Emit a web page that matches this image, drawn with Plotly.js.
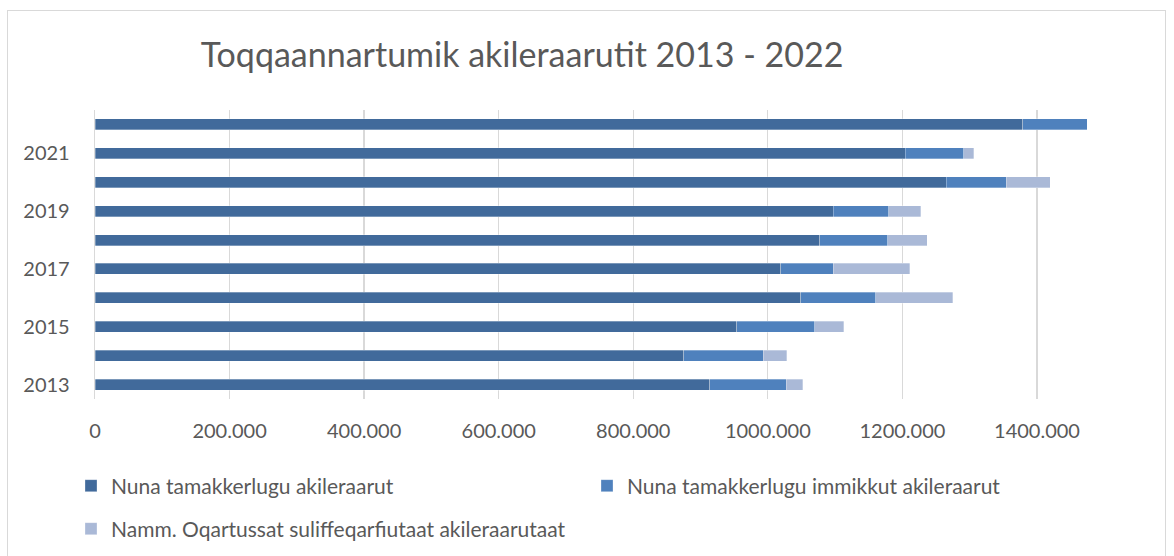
<!DOCTYPE html>
<html>
<head>
<meta charset="utf-8">
<script src="https://cdn.plot.ly/plotly-3.0.1.min.js"></script>
<style>
html,body{margin:0;padding:0;background:#fff;}
#wrap{position:relative;width:1174px;height:556px;overflow:hidden;}
#chart{width:1174px;height:556px;}
#frame{position:absolute;left:7px;top:10px;width:1157px;height:600px;border:1px solid #d9d9d9;pointer-events:none;}
</style>
</head>
<body>
<div id="wrap"><div id="chart"></div><div id="frame"></div></div>
<script>
const years = [2013, 2014, 2015, 2016, 2017, 2018, 2019, 2020, 2021, 2022];
const nunaTamakkerlugu = [914000, 875000, 954000, 1049000, 1019000, 1077000, 1097000, 1265000, 1204000, 1379000];
const nunaImmikkut = [113000, 118000, 116000, 111000, 78000, 101000, 83000, 89000, 87000, 96000];
const nammOqartussat = [25000, 35000, 43000, 115000, 114000, 59000, 47000, 66000, 15000, 0];
const seriesNames = ['Nuna tamakkerlugu akileraarut', 'Nuna tamakkerlugu immikkut akileraarut', 'Namm. Oqartussat suliffeqarfiutaat akileraarutaat'];
const yTickVals = [2013, 2015, 2017, 2019, 2021];
const xTickVals = [0, 200000, 400000, 600000, 800000, 1000000, 1200000, 1400000];
const xTickText = ['0', '200.000', '400.000', '600.000', '800.000', '1000.000', '1200.000', '1400.000'];
const titleText = 'Toqqaannartumik akileraarutit 2013 - 2022';

const FONT = 'Lato, "Open Sans", sans-serif';
const TXT = '#595959';
const colors = ['#416A9B', '#4F81BD', '#AAB9D7'];
const W = 1174, H = 556;

const mk = (vals, i, leg) => ({
  type: 'bar', orientation: 'h', x: vals, y: years, name: seriesNames[i],
  marker: {color: colors[i], line: {color: 'rgba(255,255,255,0.5)', width: 0.6}},
  legend: leg, hoverinfo: 'x+name'
});

const data = [mk(nunaTamakkerlugu, 0, 'legend'), mk(nunaImmikkut, 1, 'legend2'), mk(nammOqartussat, 2, 'legend3')];

const legBase = {orientation: 'h', xref: 'container', yref: 'container', xanchor: 'left', yanchor: 'middle',
  font: {family: FONT, size: 21, color: TXT}, bgcolor: 'rgba(0,0,0,0)'};

const layout = {
  width: W, height: H,
  margin: {l: 95, r: 63, t: 110, b: 157},
  paper_bgcolor: '#fff', plot_bgcolor: '#fff',
  barmode: 'stack', bargap: 0.62,
  font: {family: FONT, color: TXT},
  title: {text: titleText, xref: 'container', yref: 'container', x: 522 / W, xanchor: 'center', y: 1 - 55 / H, yanchor: 'middle',
    font: {family: FONT, size: 34, color: TXT}},
  xaxis: {range: [0, 1510000], tickvals: xTickVals, ticktext: xTickText, showgrid: true, gridcolor: '#d9d9d9', gridwidth: 1.3,
    zeroline: false, showline: false, ticks: '', ticklabelstandoff: 18, tickfont: {family: FONT, size: 20, color: TXT}, fixedrange: true},
  yaxis: {range: [2012.5, 2022.5], tickvals: yTickVals, showgrid: false, zeroline: false, showline: true, linecolor: '#d9d9d9', linewidth: 1.3,
    ticks: '', ticklabelstandoff: 20, tickfont: {family: FONT, size: 20, color: TXT}, fixedrange: true},
  showlegend: true,
  legend: Object.assign({}, legBase, {x: 71 / W, y: 1 - 486 / H}),
  legend2: Object.assign({}, legBase, {x: 587 / W, y: 1 - 486 / H}),
  legend3: Object.assign({}, legBase, {x: 71 / W, y: 1 - 529 / H})
};

Plotly.newPlot('chart', data, layout, {displayModeBar: false, staticPlot: true});
</script>
</body>
</html>
